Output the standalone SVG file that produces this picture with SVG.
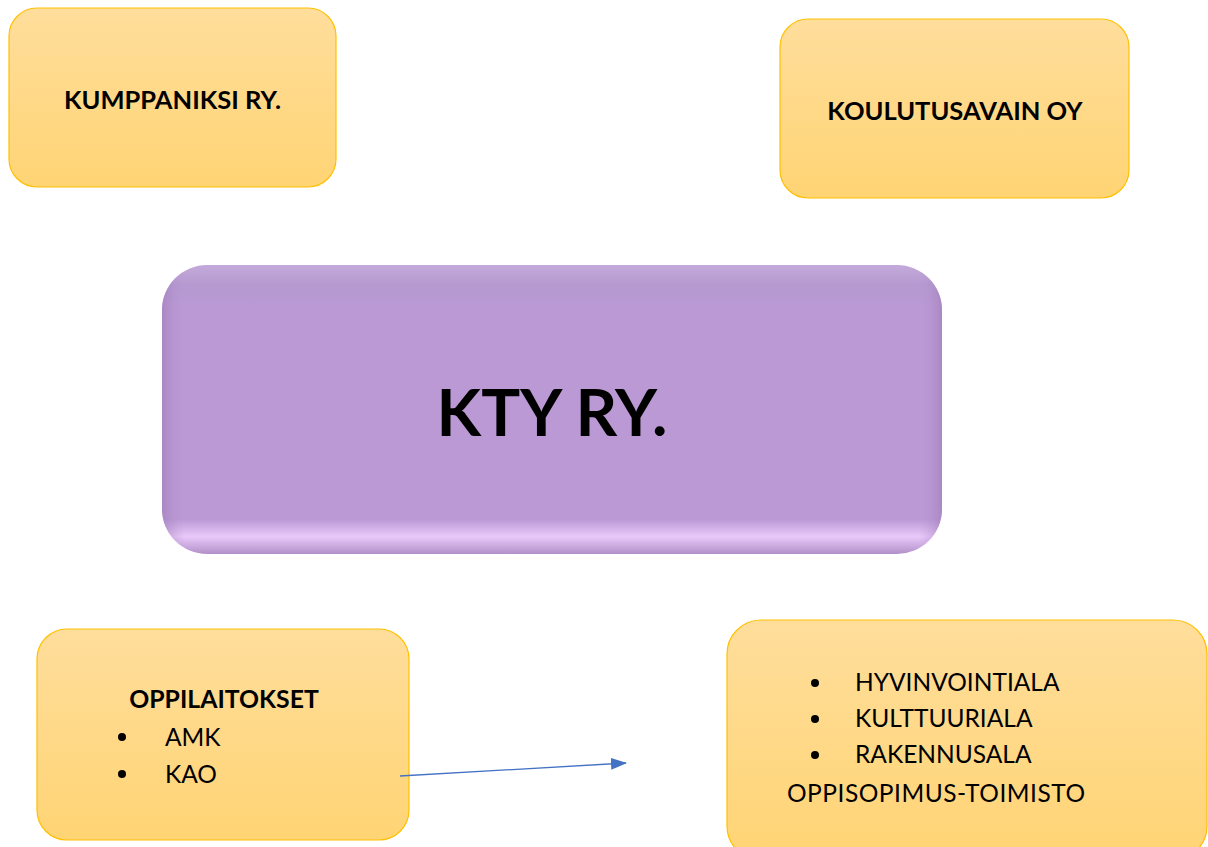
<svg xmlns="http://www.w3.org/2000/svg" width="1208" height="847" viewBox="0 0 1208 847">
<style>
.yb{fill:url(#yg);stroke:#FFC000;stroke-width:1.2}
.t{font-family:Lato,"Open Sans","Liberation Sans",sans-serif;fill:#000}
.b{font-weight:bold}
.c{text-anchor:middle}
.r{font-size:24.5px}
</style>
<defs>
<linearGradient id="yg" x1="0" y1="0" x2="0" y2="1">
<stop offset="0" stop-color="#FFDE9C"/>
<stop offset="1" stop-color="#FFD474"/>
</linearGradient>
<linearGradient id="pg" x1="0" y1="0" x2="0" y2="1">
<stop offset="0" stop-color="#C4AADB"/>
<stop offset="0.07" stop-color="#B599CF"/>
<stop offset="0.15" stop-color="#BB99D5"/>
<stop offset="0.88" stop-color="#BB99D5"/>
<stop offset="0.94" stop-color="#E9C9FA"/>
<stop offset="1" stop-color="#B090C8"/>
</linearGradient>
<linearGradient id="ph" x1="0" y1="0" x2="1" y2="0">
<stop offset="0" stop-color="#9E7CB8" stop-opacity="0.6"/>
<stop offset="0.03" stop-color="#BB99D5" stop-opacity="0"/>
<stop offset="0.97" stop-color="#BB99D5" stop-opacity="0"/>
<stop offset="1" stop-color="#9E7CB8" stop-opacity="0.6"/>
</linearGradient>
<marker id="ah" markerWidth="16" markerHeight="12" refX="15" refY="6" orient="auto" markerUnits="userSpaceOnUse" viewBox="0 0 16 12">
<path d="M0,0 L16,6 L0,12 z" fill="#4472C4"/>
</marker>
</defs>
<rect width="1208" height="847" fill="#fff"/>
<g id="kumppaniksi">
<rect class="yb" x="9" y="8" width="327" height="179" rx="28"/>
<text class="t b c" x="172.5" y="109" font-size="25.5">KUMPPANIKSI RY.</text>
</g>
<g id="koulutusavain">
<rect class="yb" x="780" y="19" width="349" height="179" rx="28"/>
<text class="t b c" x="955" y="120" font-size="25.5">KOULUTUSAVAIN OY</text>
</g>
<g id="kty">
<rect x="162" y="265" width="780" height="289" rx="45" fill="url(#pg)"/>
<rect x="162" y="265" width="780" height="289" rx="45" fill="url(#ph)"/>
<text class="t b c" x="552" y="436" font-size="65">KTY RY.</text>
</g>
<g id="oppilaitokset">
<rect class="yb" x="37" y="629" width="372" height="211" rx="30"/>
<text class="t b c" x="224" y="708" font-size="24.8">OPPILAITOKSET</text>
<circle cx="122" cy="737" r="4"/>
<circle cx="122" cy="774" r="4"/>
<text class="t r" x="165" y="746">AMK</text>
<text class="t r" x="165" y="783">KAO</text>
</g>
<g id="alat">
<rect class="yb" x="727" y="620" width="480" height="240" rx="34"/>
<circle cx="815" cy="683" r="4"/>
<circle cx="815" cy="719" r="4"/>
<circle cx="815" cy="755" r="4"/>
<text class="t r" x="855" y="691">HYVINVOINTIALA</text>
<text class="t r" x="855" y="727">KULTTUURIALA</text>
<text class="t r" x="855" y="763">RAKENNUSALA</text>
<text class="t r" x="787" y="802" textLength="298" lengthAdjust="spacing">OPPISOPIMUS-TOIMISTO</text>
</g>
<g id="connectors">
<line x1="400" y1="776" x2="626" y2="763" stroke="#4472C4" stroke-width="1.3" marker-end="url(#ah)"/>
</g>
</svg>
